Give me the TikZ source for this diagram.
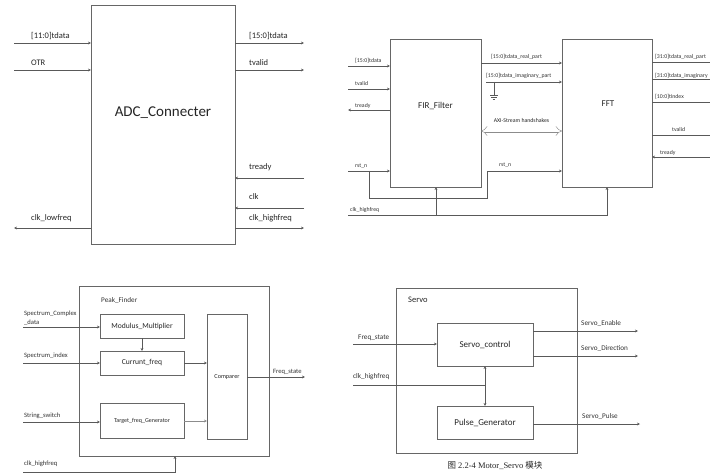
\documentclass[tikz,border=0pt]{standalone}
\usepackage{fontspec}
\setmainfont{Carlito}
\newfontfamily\cjk{Noto Sans CJK SC}
\newfontfamily\capfont{Liberation Serif}
\usetikzlibrary{arrows.meta}
\begin{document}
\begin{tikzpicture}[x=1pt,y=-1pt,
  blk/.style={draw=black!60, line width=0.6pt, inner sep=0pt, outer sep=0pt},
  wire/.style={draw=black!65, line width=0.6pt},
  arr/.style={wire, -{Stealth[length=3pt,width=2.8pt]}},
  lblA/.style={font=\fontsize{8.5}{10}\selectfont, text=black!85, inner sep=0pt, anchor=base west},
  lblB/.style={font=\fontsize{5.8}{7}\selectfont, text=black!80, inner sep=0pt, anchor=base west},
  lblC/.style={font=\fontsize{6.6}{8}\selectfont, text=black!80, inner sep=0pt, anchor=base west},
  lblD/.style={font=\fontsize{7.2}{8}\selectfont, text=black!80, inner sep=0pt, anchor=base west},
  ttl/.style={text=black!85, inner sep=0pt}]
\useasboundingbox (0,0) rectangle (710,473);
\fill[white] (0,0) rectangle (710,473);

% ---------------- Panel 1: ADC_Connecter ----------------
\node[blk, minimum width=144pt, minimum height=239pt] (adc) at (163,124.5) {};
\node[ttl, font=\fontsize{15}{18}\selectfont] (adct) at (163,113) {ADC\_Connecter};
\coordinate (a1) at (14,43);  \draw[arr] (a1) -- (a1 -| adc.west);
\node[lblA] (la1) at (31,38.5) {[11:0]tdata};
\coordinate (a2) at (14,70);  \draw[arr] (a2) -- (a2 -| adc.west);
\node[lblA] (la2) at (31,65.5) {OTR};
\coordinate (a3) at (304,43); \draw[arr] (a3 -| adc.east) -- (a3);
\node[lblA] (la3) at (249,38.5) {[15:0]tdata};
\coordinate (a4) at (304,70); \draw[arr] (a4 -| adc.east) -- (a4);
\node[lblA] (la4) at (249,65.5) {tvalid};
\coordinate (a5) at (304,178); \draw[arr] (a5) -- (a5 -| adc.east);
\node[lblA] (la5) at (249,169.5) {tready};
\coordinate (a6) at (304,208); \draw[arr] (a6) -- (a6 -| adc.east);
\node[lblA] (la6) at (249,200) {clk};
\coordinate (a7) at (304,228); \draw[arr] (a7 -| adc.east) -- (a7);
\node[lblA] (la7) at (249,221) {clk\_highfreq};
\coordinate (a8) at (14,228); \draw[arr] (a8 -| adc.west) -- (a8);
\node[lblA] (la8) at (31,221) {clk\_lowfreq};

% ---------------- Panel 2: FIR_Filter and FFT ----------------
\node[blk, minimum width=91pt, minimum height=148pt] (fir) at (435.5,113) {};
\node[ttl, font=\fontsize{9}{11}\selectfont] (firt) at (435.5,106) {FIR\_Filter};
\node[blk, minimum width=90pt, minimum height=148pt] (fft) at (607,113) {};
\node[ttl, font=\fontsize{9}{11}\selectfont] (fftt) at (608,104) {FFT};

\coordinate (b1) at (348,66); \draw[arr] (b1) -- (b1 -| fir.west);
\node[lblB] (lb1) at (355,62.5) {[15:0]tdata};
\coordinate (b2) at (348,89); \draw[arr] (b2) -- (b2 -| fir.west);
\node[lblB] (lb2) at (355,86) {tvalid};
\coordinate (b3) at (348,110); \draw[arr] (b3 -| fir.west) -- (b3);
\node[lblB] (lb3) at (355,107.5) {tready};
\coordinate (b4) at (348,171); \draw[arr] (b4) -- (b4 -| fir.west);
\node[lblB] (lb4) at (355,167.5) {rst\_n};

\coordinate (b5) at (481,63); \draw[arr] (b5) -- (b5 -| fft.west);
\node[lblB] (lb5) at (491,59) {[15:0]tdata\_real\_part};
\coordinate (b6) at (486,82); \draw[arr] (b6) -- (b6 -| fft.west);
\node[lblB] (lb6) at (486,77.5) {[15:0]tdata\_imaginary\_part};
\coordinate (g0) at (494,82); \coordinate (g1) at (494,95);
\draw[wire] (g0) -- (g1);
\draw[wire, line width=0.5pt] ([xshift=-4pt]g1) -- ([xshift=4pt]g1)
  ([xshift=-2.7pt,yshift=-2.3pt]g1) -- ([xshift=2.7pt,yshift=-2.3pt]g1)
  ([xshift=-1.3pt,yshift=-4.4pt]g1) -- ([xshift=1.3pt,yshift=-4.4pt]g1);

\coordinate (b7) at (481,131);
\draw[draw=black!45, line width=0.45pt, double=white, double distance=3pt,
      {Implies[length=3.5pt]}-{Implies[length=3.5pt]}] (b7) -- (b7 -| fft.west);
\node[ttl, font=\fontsize{5.8}{7}\selectfont, anchor=base] (lb7) at (521.5,123) {AXI-Stream handshakes};

\coordinate (r1) at (369,171); \coordinate (r2) at (369,198);
\coordinate (r3) at (487,198); \coordinate (r4) at (487,171);
\draw[arr] (r1) -- (r2) -- (r3) -- (r4) -- (r4 -| fft.west);
\node[lblB] (lb8) at (499,167) {rst\_n};

\coordinate (c1) at (348,215); \coordinate (c2) at (607,215); \coordinate (c3) at (436,215);
\draw[arr] (c1) -- (c2) -- (fft.south |- c2) -- (fft.south);
\draw[arr] (c3) -- (c3 |- fir.south);
\node[lblB] (lb9) at (350,212) {clk\_highfreq};

\coordinate (d1) at (710,62);  \draw[wire] (d1 -| fft.east) -- (d1);
\node[lblB] (ld1) at (655,58.5) {[31:0]tdata\_real\_part};
\coordinate (d2) at (710,79);  \draw[wire] (d2 -| fft.east) -- (d2);
\node[lblB] (ld2) at (655,77.5) {[31:0]tdata\_imaginary};
\coordinate (d3) at (710,102); \draw[wire] (d3 -| fft.east) -- (d3);
\node[lblB] (ld3) at (655,99) {[10:0]tindex};
\coordinate (d4) at (710,135); \draw[wire] (d4 -| fft.east) -- (d4);
\node[lblB] (ld4) at (672,132) {tvalid};
\coordinate (d5) at (710,157); \draw[arr] (d5) -- (d5 -| fft.east);
\node[lblB] (ld5) at (660,155) {tready};

% ---------------- Panel 3: Peak_Finder ----------------
\node[blk, minimum width=190pt, minimum height=170pt] (pf) at (174,371) {};
\node[lblD] (pft) at (101,302) {Peak\_Finder};
\node[blk, minimum width=84pt, minimum height=24pt, font=\fontsize{7.6}{9}\selectfont, text=black!85] (mm) at (142,326) {Modulus\_Multiplier};
\node[blk, minimum width=84pt, minimum height=24pt, font=\fontsize{7.6}{9}\selectfont, text=black!85] (cf) at (142,363) {Currunt\_freq};
\node[blk, minimum width=84pt, minimum height=35pt, font=\fontsize{6}{7}\selectfont, text=black!85] (tg) at (142,420.5) {Target\_freq\_Generator};
\node[blk, minimum width=40pt, minimum height=125pt, font=\fontsize{6.2}{7}\selectfont, text=black!85] (cmp) at (227,376.5) {Comparer};

\coordinate (e1) at (23,327); \draw[arr] (e1) -- (e1 -| mm.west);
\node[lblC] (le1) at (24,316) {Spectrum\_Complex};
\node[lblC] (le1b) at (24,324) {\_data};
\draw[arr] (mm.south) -- (cf.north);
\coordinate (e2) at (23,363); \draw[arr] (e2) -- (e2 -| cf.west);
\node[lblC] (le2) at (24,357) {Spectrum\_index};
\draw[arr] (cf.east) -- (cf.east -| cmp.west);
\coordinate (e3) at (23,422); \draw[arr] (e3) -- (e3 -| tg.west);
\node[lblC] (le3) at (24,417) {String\_switch};
\coordinate (e4) at (184,421); \draw[arr, draw=black!45] (e4) -- (e4 -| cmp.west);
\coordinate (e5) at (305,377); \draw[arr] (e5 -| cmp.east) -- (e5);
\node[lblC] (le5) at (273,373) {Freq\_state};
\coordinate (e6) at (23,472); \coordinate (e7) at (175,472);
\draw[arr] (e6) -- (e7) -- (e7 |- pf.south);
\node[lblC] (le6) at (24,465) {clk\_highfreq};

% ---------------- Panel 4: Servo ----------------
\node[blk, minimum width=181pt, minimum height=165pt] (sv) at (486.5,370.5) {};
\node[lblA] (svt) at (408,303) {Servo};
\node[blk, minimum width=96pt, minimum height=43pt, font=\fontsize{9}{11}\selectfont, text=black!85] (sc) at (485,344.5) {Servo\_control};
\node[blk, minimum width=96pt, minimum height=33pt, font=\fontsize{9}{11}\selectfont, text=black!85] (pg) at (485,422.5) {Pulse\_Generator};

\coordinate (f1) at (353,344); \draw[arr] (f1) -- (f1 -| sc.west);
\node[lblD] (lf1) at (358,339) {Freq\_state};
\coordinate (f2) at (353,385); \coordinate (f3) at (485,385);
\draw[wire] (f2) -- (f3);
\draw[arr] (f3) -- (sc.south);
\draw[arr] (f3) -- (pg.north);
\node[lblD] (lf2) at (353,378.5) {clk\_highfreq};
\coordinate (f4) at (638,331); \draw[arr] (f4 -| sc.east) -- (f4);
\node[lblD] (lf4) at (581,325.5) {Servo\_Enable};
\coordinate (f5) at (638,356); \draw[arr] (f5 -| sc.east) -- (f5);
\node[lblD] (lf5) at (581,350.5) {Servo\_Direction};
\coordinate (f6) at (640,424); \draw[arr] (f6 -| pg.east) -- (f6);
\node[lblD] (lf6) at (582,418) {Servo\_Pulse};

\node[ttl, font=\fontsize{8.5}{10}\selectfont\capfont, anchor=base] (cap) at (495,468) {{\cjk 图} 2.2-4 Motor\_Servo {\cjk 模块}};
\end{tikzpicture}
\end{document}
